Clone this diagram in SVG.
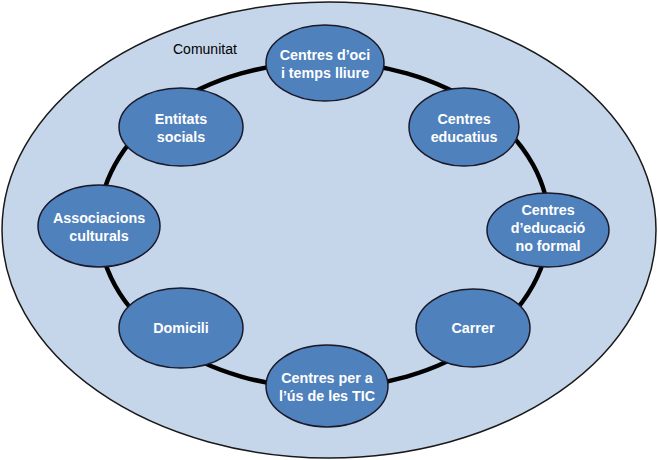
<svg xmlns="http://www.w3.org/2000/svg" width="658" height="460" viewBox="0 0 658 460">
<style>
.node ellipse{fill:#4f81bd;stroke:#1a1a2a;stroke-width:1.5}
.node text{fill:#fff;font-family:"Liberation Sans",Arial,sans-serif;font-weight:bold;font-size:14.3px;text-anchor:middle}
</style>
<rect width="658" height="460" fill="#fff"/>
<ellipse id="comunitat" cx="329" cy="230" rx="327" ry="228" fill="#c6d6ea" stroke="#1a1a1a" stroke-width="1.5"/>
<text x="173" y="54" font-family="Liberation Sans,Arial,sans-serif" font-size="14" fill="#000">Comunitat</text>
<g id="connectors">
<ellipse cx="324" cy="225" rx="225" ry="163" fill="none" stroke="#000" stroke-width="4.5"/>
</g>
<g id="n1" class="node"><ellipse cx="325" cy="63" rx="59" ry="38"/><text x="325" y="60">Centres d’oci</text><text x="325" y="78">i temps lliure</text></g>
<g id="n2" class="node"><ellipse cx="464" cy="127" rx="55" ry="39"/><text x="464" y="124">Centres</text><text x="464" y="142">educatius</text></g>
<g id="n3" class="node"><ellipse cx="548" cy="230" rx="61" ry="37"/><text x="548" y="215">Centres</text><text x="548" y="233">d’educació</text><text x="548" y="251">no formal</text></g>
<g id="n4" class="node"><ellipse cx="473" cy="328" rx="57" ry="39"/><text x="473" y="333">Carrer</text></g>
<g id="n5" class="node"><ellipse cx="327" cy="386" rx="61" ry="41"/><text x="327" y="383">Centres per a</text><text x="327" y="401">l’ús de les TIC</text></g>
<g id="n6" class="node"><ellipse cx="181" cy="328" rx="62" ry="40"/><text x="181" y="333">Domicili</text></g>
<g id="n7" class="node"><ellipse cx="99" cy="226" rx="61" ry="41"/><text x="99" y="223">Associacions</text><text x="99" y="241">culturals</text></g>
<g id="n8" class="node"><ellipse cx="181" cy="127" rx="62" ry="39"/><text x="181" y="124">Entitats</text><text x="181" y="142">socials</text></g>
</svg>
